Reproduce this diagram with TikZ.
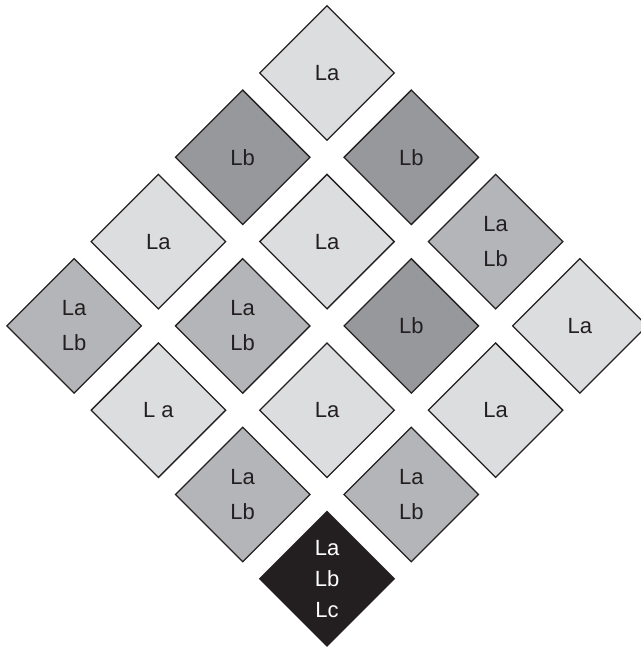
\documentclass[tikz,border=0pt]{standalone}
\usepackage{fontspec}
\setmainfont{Liberation Sans}
\usetikzlibrary{shapes.geometric}
\definecolor{tlight}{HTML}{DCDDDF}
\definecolor{tmed}{HTML}{B4B5B8}
\definecolor{tdark}{HTML}{97989B}
\definecolor{tblack}{HTML}{231F20}
\definecolor{ttext}{HTML}{231F20}
\begin{document}
\begin{tikzpicture}[x=1pt,y=-1pt,
  tile/.style={diamond, aspect=1, minimum width=135pt, minimum height=135pt,
    inner sep=0pt, draw=tblack, line width=1.3pt, text=ttext, align=center,
    font=\fontsize{22}{35}\selectfont},
  lighttile/.style={tile, fill=tlight},
  medtile/.style={tile, fill=tmed},
  darktile/.style={tile, fill=tdark},
  blacktile/.style={tile, fill=tblack, text=white, font=\fontsize{22}{31}\selectfont}]
\useasboundingbox (0,0) rectangle (640,650);
% row 0
\node[lighttile] (r0a) at (327,73) {La};
% row 1
\node[darktile] (r1a) at (242.7,157.3) {Lb};
\node[darktile] (r1b) at (411.3,157.3) {Lb};
% row 2
\node[lighttile] (r2a) at (158.4,241.6) {La};
\node[lighttile] (r2b) at (327,241.6) {La};
\node[medtile] (r2c) at (495.6,241.6) {La\\Lb};
% row 3
\node[medtile] (r3a) at (74.1,325.9) {La\\Lb};
\node[medtile] (r3b) at (242.7,325.9) {La\\Lb};
\node[darktile] (r3c) at (411.3,325.9) {Lb};
\node[lighttile] (r3d) at (579.9,325.9) {La};
% row 4
\node[lighttile] (r4a) at (158.4,410.2) {L a};
\node[lighttile] (r4b) at (327,410.2) {La};
\node[lighttile] (r4c) at (495.6,410.2) {La};
% row 5
\node[medtile] (r5a) at (242.7,494.5) {La\\Lb};
\node[medtile] (r5b) at (411.3,494.5) {La\\Lb};
% row 6
\node[blacktile] (r6a) at (327,578.8) {La\\Lb\\Lc};
\end{tikzpicture}
\end{document}
